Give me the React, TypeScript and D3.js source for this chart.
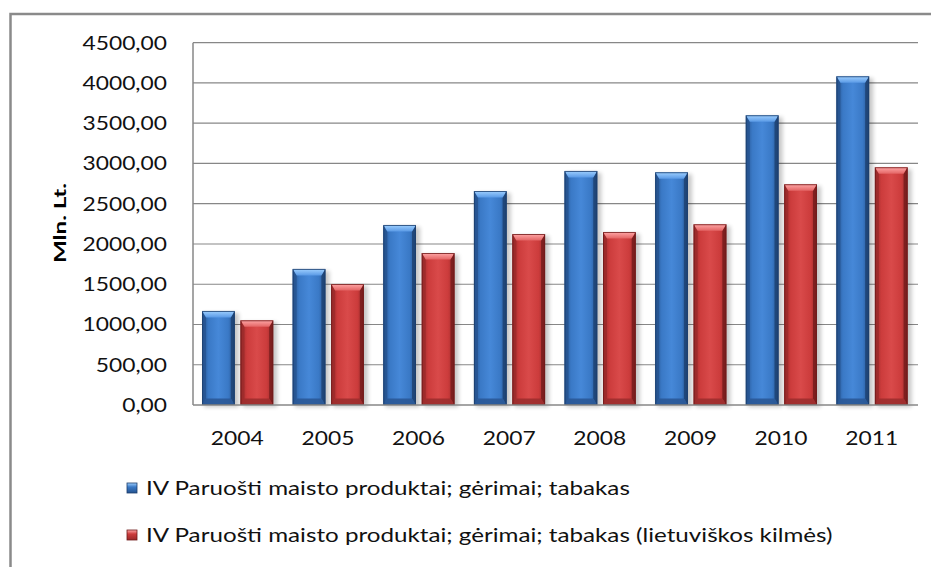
import React from "react";
import * as d3 from "d3";

const years = ["2004", "2005", "2006", "2007", "2008", "2009", "2010", "2011"];
const totalValues = [1168, 1690, 2236, 2658, 2907, 2891, 3599, 4083];
const lithuanianValues = [1052, 1503, 1888, 2124, 2149, 2245, 2742, 2953];
const yTicks = [0, 500, 1000, 1500, 2000, 2500, 3000, 3500, 4000, 4500];
const seriesNames = [
  "IV Paruošti maisto produktai; gėrimai; tabakas",
  "IV Paruošti maisto produktai; gėrimai; tabakas (lietuviškos kilmės)",
];
const axisTitle = "Mln. Lt.";

const W = 931;
const H = 567;
const plot = { left: 193, right: 918, top: 42.7, bottom: 405 };
const FONT = "Lato, 'Open Sans', sans-serif";
const SX = 1.14;
const SX_LEGEND = 1.21;

const palettes = [
  { id: "b", edge: "#1c3d6b", dark: "#25538f", main: "#3a79c6", light: "#4688d8", top1: "#9fd0ff", top2: "#5a9ae6", bot: "#2a5896" },
  { id: "r", edge: "#6e1a1a", dark: "#9a2a2a", main: "#cc3c3c", light: "#d94a4a", top1: "#ffa8a8", top2: "#e36464", bot: "#9c2e2e" },
];

function Bar({ x, y, w, h, p }: { x: number; y: number; w: number; h: number; p: typeof palettes[0] }) {
  const b = Math.min(6.5, h / 3);
  const s = 4;
  return (
    <g>
      <rect x={x + 2} y={y + 2} width={w + 2} height={h} fill="#000" opacity={0.22} filter="url(#shadow)" />
      <rect x={x} y={y} width={w} height={h} fill={`url(#body-${p.id})`} />
      <polygon points={`${x},${y} ${x + s},${y + b} ${x + s},${y + h - b} ${x},${y + h}`} fill={p.dark} opacity={0.8} />
      <polygon points={`${x + w},${y} ${x + w - s},${y + b} ${x + w - s},${y + h - b} ${x + w},${y + h}`} fill={p.edge} opacity={0.75} />
      <polygon points={`${x},${y} ${x + w},${y} ${x + w - s},${y + b} ${x + s},${y + b}`} fill={`url(#top-${p.id})`} />
      <polygon points={`${x},${y + h} ${x + w},${y + h} ${x + w - s},${y + h - b} ${x + s},${y + h - b}`} fill={p.bot} opacity={0.9} />
      <rect x={x + 0.5} y={y + 0.5} width={w - 1} height={h - 1} fill="none" stroke={p.edge} strokeWidth={1} opacity={0.8} />
    </g>
  );
}

export default function App() {
  const x0 = d3.scaleBand<string>().domain(years).range([plot.left, plot.right]).padding(0);
  const bw = x0.bandwidth();
  const x1 = d3
    .scaleBand<number>()
    .domain([0, 1])
    .range([bw * 0.1, bw * 0.885])
    .paddingInner(0.15);
  const y = d3.scaleLinear().domain([0, 4500]).range([plot.bottom, plot.top]);
  const fmt = (v: number) => d3.format(".2f")(v).replace(".", ",");
  const series = [totalValues, lithuanianValues];

  return (
    <svg width={W} height={H} style={{ position: "absolute", left: 0, top: 0, background: "#fff" }}>
      <defs>
        <filter id="shadow" x="-50%" y="-10%" width="200%" height="120%">
          <feGaussianBlur stdDeviation="2.2" />
        </filter>
        {palettes.map((p) => (
          <React.Fragment key={p.id}>
            <linearGradient id={`body-${p.id}`} x1="0" x2="1" y1="0" y2="0">
              <stop offset="0" stopColor={p.dark} />
              <stop offset="0.2" stopColor={p.main} />
              <stop offset="0.5" stopColor={p.light} />
              <stop offset="0.8" stopColor={p.main} />
              <stop offset="1" stopColor={p.dark} />
            </linearGradient>
            <linearGradient id={`top-${p.id}`} x1="0" x2="0" y1="0" y2="1">
              <stop offset="0" stopColor={p.top1} />
              <stop offset="1" stopColor={p.top2} />
            </linearGradient>
            <linearGradient id={`leg-${p.id}`} x1="0" x2="0" y1="0" y2="1">
              <stop offset="0" stopColor={p.top1} />
              <stop offset="0.4" stopColor={p.main} />
              <stop offset="1" stopColor={p.dark} />
            </linearGradient>
          </React.Fragment>
        ))}
      </defs>

      <rect x={10.5} y={14} width={W + 20} height={H + 20} fill="#fff" stroke="#8a8a8a" strokeWidth={2.5} />

      {yTicks.map((t) => (
        <g key={t}>
          {t > 0 && (
            <line x1={plot.left} x2={plot.right} y1={y(t)} y2={y(t)} stroke="#878787" strokeWidth={1.2} />
          )}
          <text
            transform={`translate(167,${y(t) + 7}) scale(${SX},1)`}
            textAnchor="end"
            fontFamily={FONT}
            fontSize={20}
            fill="#111"
          >
            {fmt(t)}
          </text>
        </g>
      ))}

      <line x1={plot.left} x2={plot.left} y1={plot.top} y2={plot.bottom} stroke="#878787" strokeWidth={1.5} />

      {years.map((yr, i) =>
        series.map((vals, si) => {
          const bx = (x0(yr) as number) + (x1(si) as number);
          const by = y(vals[i]);
          return <Bar key={yr + si} x={bx} y={by} w={x1.bandwidth()} h={plot.bottom - by} p={palettes[si]} />;
        })
      )}

      <line x1={plot.left} x2={plot.right} y1={plot.bottom} y2={plot.bottom} stroke="#878787" strokeWidth={1.5} />

      {years.map((yr) => (
        <text
          key={yr}
          transform={`translate(${(x0(yr) as number) + bw / 2 - 1},445) scale(${SX},1)`}
          textAnchor="middle"
          fontFamily={FONT}
          fontSize={20}
          fill="#111"
        >
          {yr}
        </text>
      ))}

      <text
        transform="translate(66,223) rotate(-90)"
        textAnchor="middle"
        fontFamily={FONT}
        fontWeight="bold"
        fontSize={17}
        textLength={80}
        lengthAdjust="spacingAndGlyphs"
        fill="#000"
      >
        {axisTitle}
      </text>

      {seriesNames.map((name, i) => {
        const cy = 488 + i * 47;
        return (
          <g key={name}>
            <rect x={127} y={cy - 5} width={10} height={10} fill={`url(#leg-${palettes[i].id})`} stroke={palettes[i].edge} strokeWidth={0.8} />
            <text
              transform={`translate(146,${cy + 7}) scale(${SX_LEGEND},1)`}
              fontFamily={FONT}
              fontSize={20}
              fill="#111"
            >
              {name}
            </text>
          </g>
        );
      })}
    </svg>
  );
}
